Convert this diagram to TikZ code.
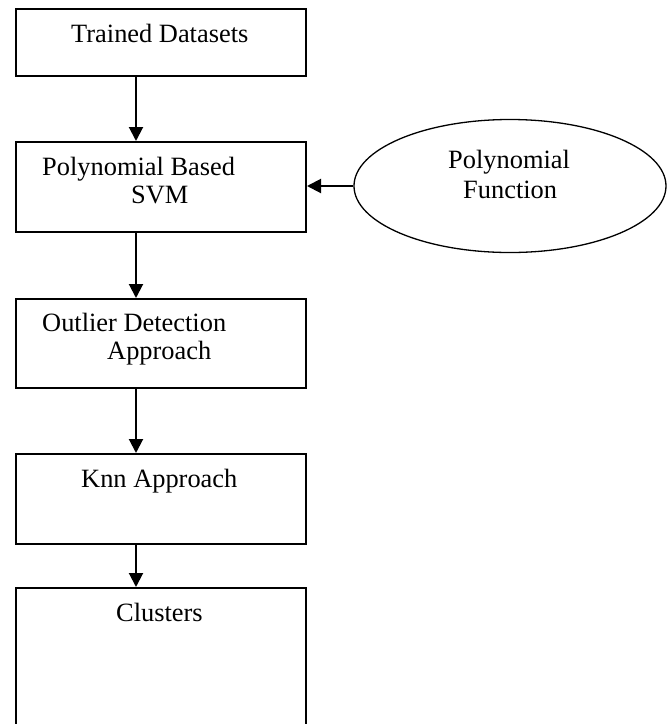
\documentclass[tikz,border=0pt]{standalone}
\usepackage{fontspec}
\setmainfont{Liberation Serif}
\usetikzlibrary{arrows.meta,shapes.geometric}
\begin{document}
\begin{tikzpicture}[x=1pt,y=-1pt,
  box/.style={draw,line width=2pt,rectangle,inner sep=0pt,anchor=north west,minimum width=290pt},
  oval/.style={draw,line width=1.3pt,ellipse,inner sep=0pt,minimum width=312pt,minimum height=133pt},
  lbl/.style={anchor=base west,inner sep=0pt,font=\fontsize{26.4}{30}\selectfont},
  conn/.style={line width=2pt,-{Triangle[width=14pt,length=14pt]}}]
\useasboundingbox (0,0) rectangle (668,724);
\fill[white] (0,0) rectangle (668,724);
\clip (0,0) rectangle (668,724);
% boxes
\node[box,minimum height=67pt] (b1) at (15,8) {};
\node[box,minimum height=90pt] (b2) at (15,141) {};
\node[box,minimum height=89pt] (b3) at (15,298) {};
\node[box,minimum height=90pt] (b4) at (15,453) {};
\node[box,minimum height=200pt] (b5) at (15,587) {};
\node[oval] (e) at (510,186) {};
% labels
\node[lbl] (t1) at (71,42) {Trained Datasets};
\node[lbl] (t2a) at (42,175) {Polynomial Based};
\node[lbl] (t2b) at (131,203) {SVM};
\node[lbl] (t6a) at (448,168) {Polynomial};
\node[lbl] (t6b) at (463,198) {Function};
\node[lbl] (t3a) at (42,331) {Outlier Detection};
\node[lbl] (t3b) at (107,359) {Approach};
\node[lbl] (t4) at (81,487) {Knn Approach};
\node[lbl] (t5) at (116,621) {Clusters};
% connectors
\draw[conn] ([xshift=121pt]b1.south west) -- ([xshift=121pt]b2.north west);
\draw[conn] ([xshift=121pt]b2.south west) -- ([xshift=121pt]b3.north west);
\draw[conn] ([xshift=121pt]b3.south west) -- ([xshift=121pt]b4.north west);
\draw[conn] ([xshift=121pt]b4.south west) -- ([xshift=121pt]b5.north west);
\draw[conn] (e.west) -- (e.west -| b2.east);
\end{tikzpicture}
\end{document}
